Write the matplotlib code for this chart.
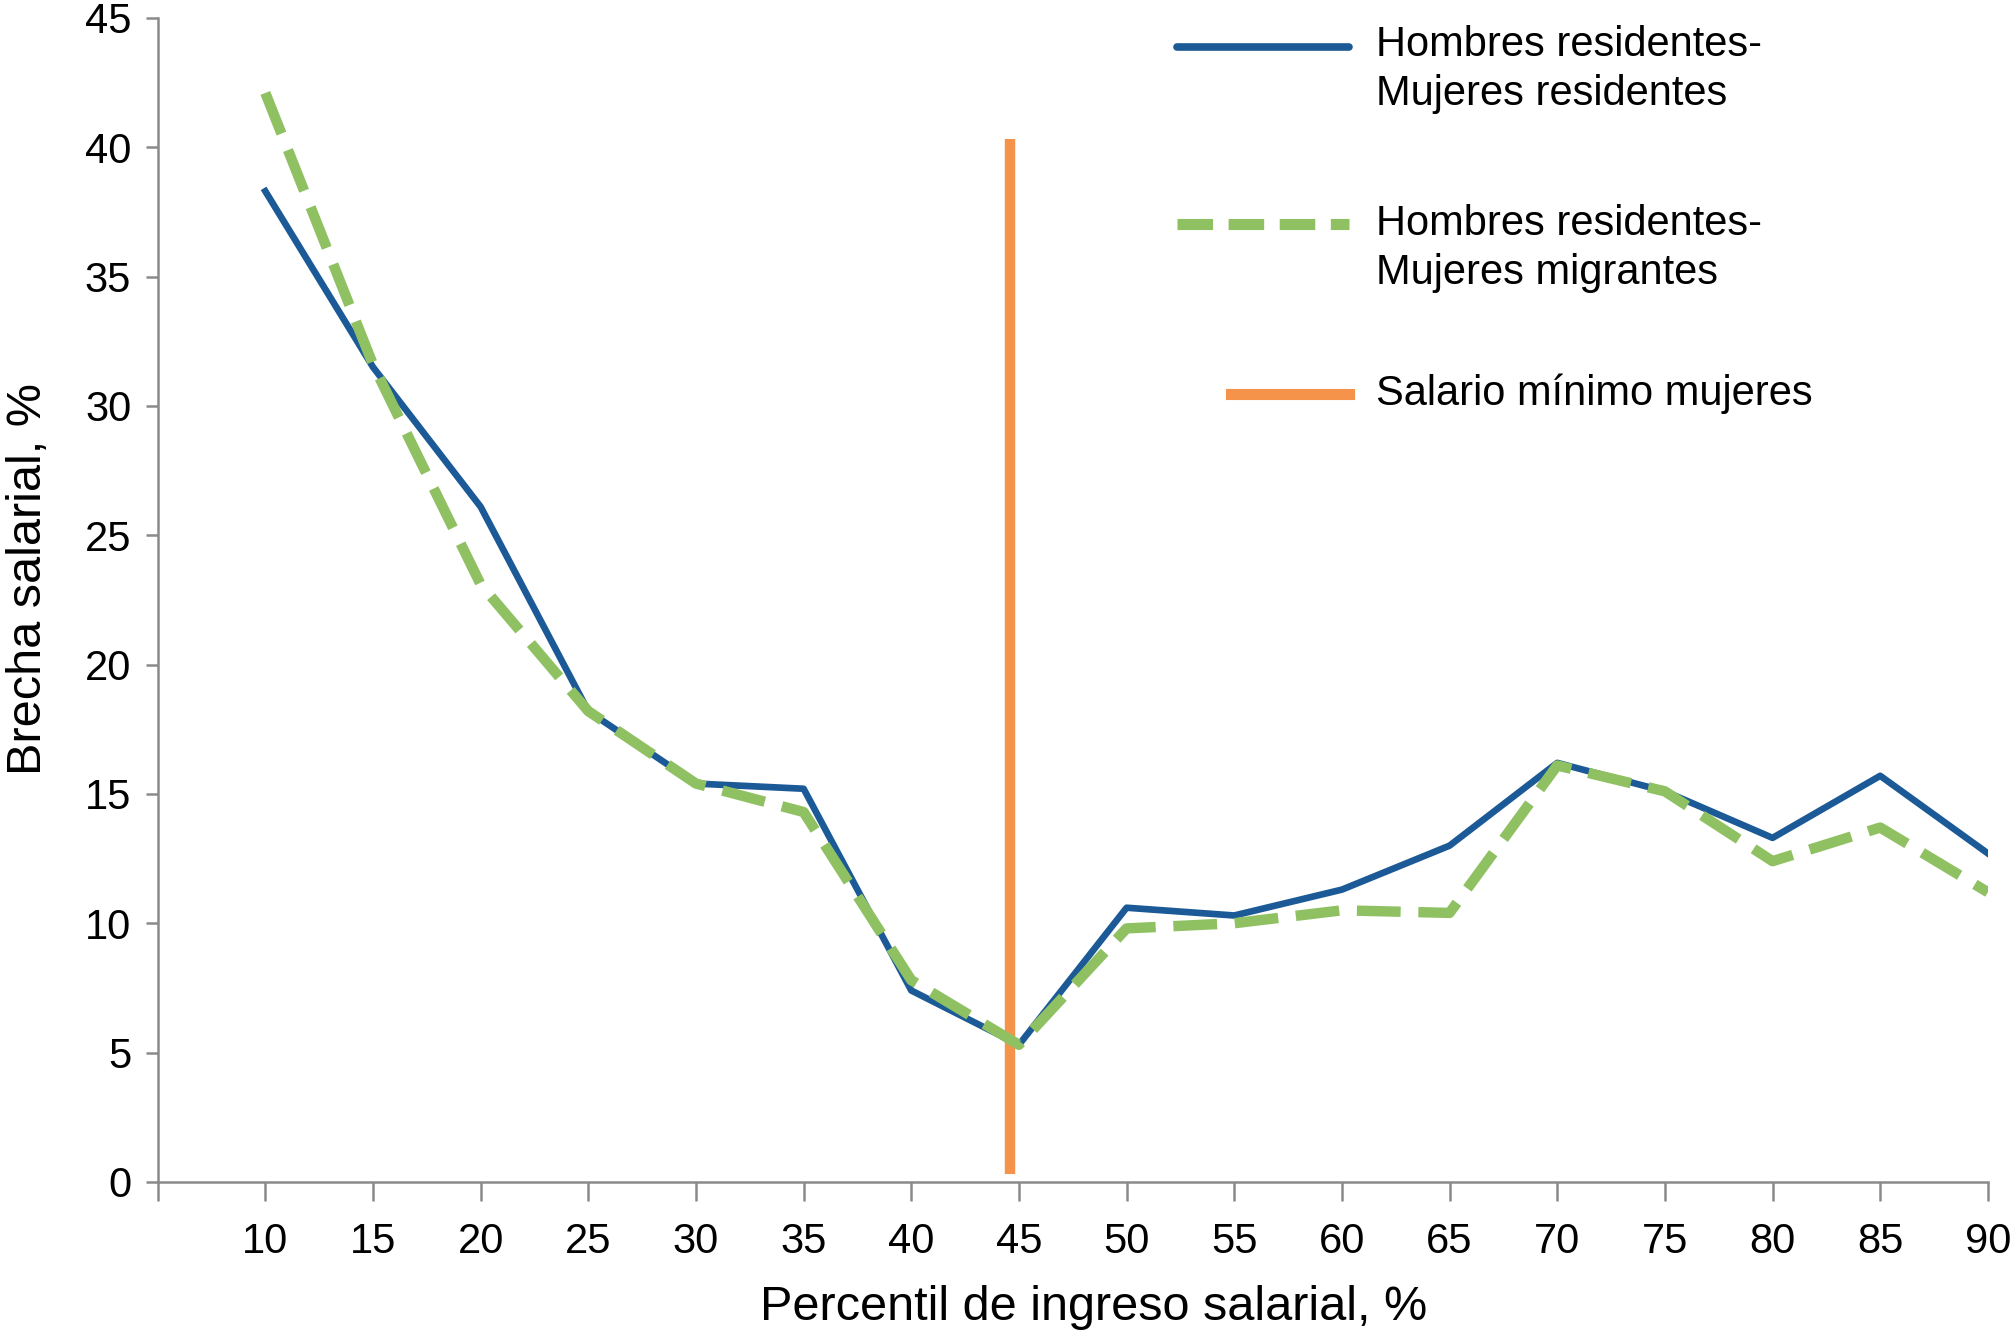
import matplotlib
matplotlib.use("Agg")
import matplotlib.pyplot as plt

# percentiles of wage income
percentiles = [10, 15, 20, 25, 30, 35, 40, 45, 50, 55, 60, 65, 70, 75, 80, 85, 90]
# wage gap, %
gap_res_res = [38.3, 31.5, 26.1, 18.2, 15.4, 15.2, 7.4, 5.3, 10.6, 10.3, 11.3, 13.0, 16.2, 15.1, 13.3, 15.7, 12.7]
gap_res_mig = [42.1, 31.6, 23.1, 18.2, 15.4, 14.3, 7.8, 5.3, 9.8, 10.0, 10.5, 10.4, 16.1, 15.1, 12.4, 13.7, 11.2]
min_wage_pct = 44.6
min_wage_span = [0.3, 40.3]

labels = ["Hombres residentes-\nMujeres residentes",
          "Hombres residentes-\nMujeres migrantes",
          "Salario mínimo mujeres"]

blue = "#1b5a96"
green = "#8fc163"
orange = "#f5934b"
grey = "#8a8a8a"

plt.rcParams['font.family'] = ['Liberation Sans', 'DejaVu Sans']

fig = plt.figure(figsize=(20.11, 13.37), dpi=100)
ax = fig.add_axes([0.0784, 0.116, 0.9101, 0.8706])

ax.vlines(min_wage_pct, min_wage_span[0], min_wage_span[1], color=orange, lw=7.5, zorder=3)
ax.plot(percentiles, gap_res_res, color=blue, lw=4.8, zorder=4)
ax.plot(percentiles, gap_res_mig, color=green, lw=7.5, dashes=(4.2, 1.7), zorder=5)

ax.set_xlim(5, 90)
ax.set_ylim(0, 45)
ax.set_xticks(range(5, 91, 5))
ax.set_xticklabels([""] + [str(p) for p in percentiles])
ax.set_yticks(range(0, 46, 5))

for s in ["top", "right"]:
    ax.spines[s].set_visible(False)
for s in ["left", "bottom"]:
    ax.spines[s].set_color(grey)
    ax.spines[s].set_linewidth(1.8)
ax.tick_params(axis="x", direction="out", length=14, width=1.8, color=grey,
               labelsize=30, pad=15)
ax.tick_params(axis="y", direction="out", length=9, width=1.8, color=grey,
               labelsize=30, pad=10)

ax.set_xlabel("Percentil de ingreso salarial, %", fontsize=35, va="center")
ax.set_ylabel("Brecha salarial, %", fontsize=35, va="center")
ax.xaxis.set_label_coords(0.5116, -0.108)
ax.yaxis.set_label_coords(-0.0708, 0.518)

# legend drawn by hand (handles aligned with first text line)
tr = ax.transAxes
ax.plot([0.557, 0.651], [0.9747, 0.9747], transform=tr, color=blue, lw=5.5,
        solid_capstyle="round", clip_on=False)
ax.plot([0.557, 0.651], [0.8227, 0.8227], transform=tr, color=green, lw=8,
        dashes=(3.2, 1.4), clip_on=False)
ax.plot([0.5865, 0.651], [0.677, 0.677], transform=tr, color=orange, lw=8,
        clip_on=False)
text_y = [(0.9769, 0.935), (0.8227, 0.7808), (0.677,)]
for lab, ys in zip(labels, text_y):
    for line, y in zip(lab.split("\n"), ys):
        ax.text(0.6657, y, line, transform=tr, fontsize=30, va="center", ha="left")

fig.savefig("out.png", dpi=100, facecolor="white")
